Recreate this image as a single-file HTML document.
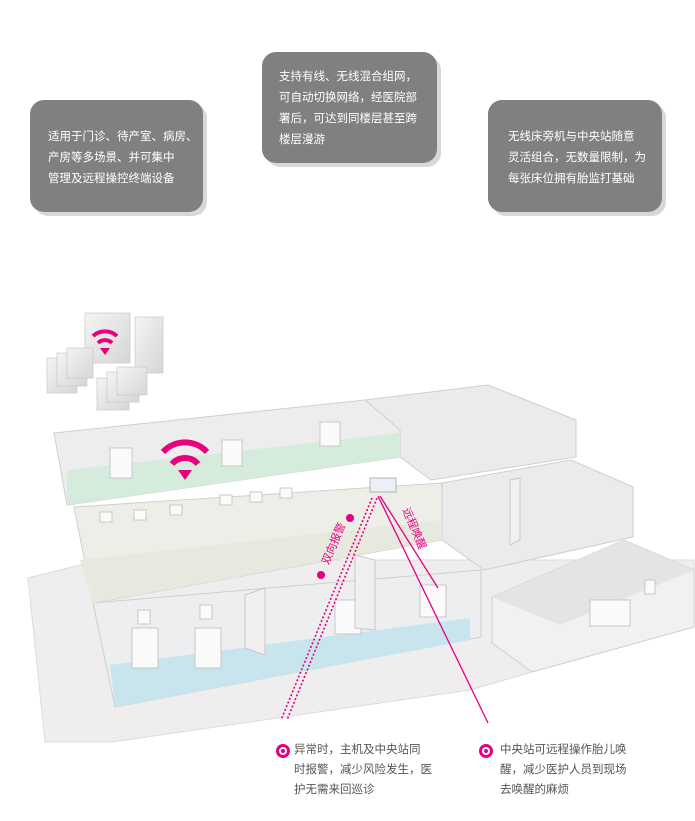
<!DOCTYPE html>
<html><head><meta charset="utf-8"><style>
body{margin:0;background:#fff;}
.wrap{position:relative;width:695px;height:821px;overflow:hidden;font-family:"Liberation Sans","Noto Sans CJK SC",sans-serif;}
.box{position:absolute;background:#808080;border-radius:14px;color:#fff;font-size:11.5px;line-height:21px;box-shadow:4px 4px 0 #d8d8d8;box-sizing:border-box;}
.lab{position:absolute;font-size:11.5px;line-height:20px;color:#555;}
.dot{position:absolute;width:8px;height:8px;border:3px solid #e4007f;border-radius:50%;background:#fff;}
.dot:after{content:"";position:absolute;left:2px;top:2px;width:4px;height:4px;border-radius:50%;background:#e4007f;}
</style></head><body><div class="wrap">
<div class="box" style="left:30px;top:100px;width:173px;height:112px;padding:27px 0 0 18px;">适用于门诊、待产室、病房、<br>产房等多场景、并可集中<br>管理及远程操控终端设备</div>
<div class="box" style="left:262px;top:52px;width:175px;height:111px;padding:15px 0 0 17px;">支持有线、无线混合组网，<br>可自动切换网络，经医院部<br>署后，可达到同楼层甚至跨<br>楼层漫游</div>
<div class="box" style="left:488px;top:100px;width:174px;height:112px;padding:27px 0 0 20px;">无线床旁机与中央站随意<br>灵活组合，无数量限制，为<br>每张床位拥有胎监打基础</div>

<svg width="695" height="821" style="position:absolute;left:0;top:0">
<defs><linearGradient id="g" x1="0" y1="0" x2="1" y2="1"><stop offset="0" stop-color="#f4f4f4"/><stop offset="1" stop-color="#d6d6d6"/></linearGradient></defs>
<!-- city -->
<g fill="url(#g)" stroke="#c8c8c8" stroke-width="0.7">
<rect x="85" y="313" width="45" height="50"/>
<rect x="135" y="317" width="28" height="56"/>
<rect x="47" y="358" width="30" height="35"/><rect x="57" y="353" width="30" height="33"/><rect x="67" y="348" width="26" height="30"/>
<rect x="97" y="378" width="32" height="32"/><rect x="107" y="372" width="32" height="30"/><rect x="117" y="367" width="30" height="28"/>
</g>
<!-- ground slab -->
<polygon points="28,578 100,560 694,560 694,627 532,672 470,690 112,742 45,742" fill="#efeded" stroke="#dcdcdc"/>
<!-- right ground block -->
<polygon points="492,597 624,540 694,570 694,627 532,672 492,643" fill="#f1f1f1" stroke="#d0d0d0"/>
<polygon points="492,597 624,540 694,570 560,625" fill="#e4e4e4"/>
<!-- ground floor block -->
<polygon points="93,603 481,570 481,637 115,707" fill="#eceef0" stroke="#cfcfcf"/>
<polygon points="110,665 470,618 470,640 115,707" fill="#c8e5ee"/>
<!-- middle right block -->
<polygon points="442,483 571,460 633,487 633,537 484,570 442,540" fill="#ebebeb" stroke="#cfcfcf"/>
<!-- middle floor -->
<polygon points="74,507 442,483 442,540 93,603" fill="#eeeee8" stroke="#cfcfcf"/>
<polygon points="80,560 442,520 442,540 93,603" fill="#e8e9de"/>
<!-- top right block -->
<polygon points="365,400 488,385 576,420 576,457 431,480 400,457" fill="#ebebeb" stroke="#cfcfcf"/>
<!-- top floor -->
<polygon points="54,433 365,400 400,430 400,457 67,505" fill="#ededed" stroke="#cfcfcf"/>
<polygon points="67,470 400,433 400,457 67,505" fill="#d5ecdc"/>
<!-- beds -->
<g fill="#fafafa" stroke="#bdbdbd" stroke-width="0.8">
<rect x="110" y="448" width="22" height="30"/><rect x="222" y="440" width="20" height="26"/><rect x="320" y="422" width="20" height="24"/>
<rect x="132" y="628" width="26" height="40"/><rect x="195" y="628" width="26" height="40"/><rect x="335" y="600" width="26" height="34"/><rect x="420" y="585" width="26" height="32"/><rect x="590" y="600" width="40" height="26"/>
<rect x="100" y="512" width="12" height="10"/><rect x="134" y="510" width="12" height="10"/><rect x="170" y="505" width="12" height="10"/><rect x="220" y="495" width="12" height="10"/><rect x="250" y="492" width="12" height="10"/><rect x="280" y="488" width="12" height="10"/>
<rect x="138" y="610" width="12" height="14"/><rect x="200" y="605" width="12" height="14"/><rect x="645" y="580" width="10" height="14"/>
</g>
<g fill="#f0f0f0" stroke="#c8c8c8"><polygon points="245,595 265,588 265,655 245,648"/><polygon points="355,555 375,560 375,630 355,628"/><polygon points="510,480 520,478 520,540 510,545"/></g>
<rect x="370" y="478" width="26" height="14" fill="#eaf0f5" stroke="#999" stroke-width="0.7"/>
<!-- wifi -->
<g fill="none" stroke="#e6007e" stroke-linecap="butt">
<path d="M163,452 A30,30 0 0 1 207,452" stroke-width="6"/>
<path d="M172,464 A17,17 0 0 1 198,464" stroke-width="6"/>
<path d="M93,336 A18,18 0 0 1 117,336" stroke-width="4"/>
<path d="M98,343 A10,10 0 0 1 112,343" stroke-width="4"/>
</g>
<polygon points="178,470 192,470 185,480" fill="#e6007e"/>
<polygon points="100,348 110,348 105,355" fill="#e6007e"/>
<!-- lines -->
<g stroke="#e4007f" stroke-width="1.6">
<line x1="372" y1="498" x2="281" y2="720" stroke-dasharray="2,2"/>
<line x1="377" y1="498" x2="287" y2="720" stroke-dasharray="2,2"/>
<line x1="378" y1="496" x2="488" y2="723" stroke-width="1.3"/>
<line x1="380" y1="496" x2="438" y2="588" stroke-width="1.3"/>
</g>
<circle cx="350" cy="518" r="4" fill="#e4007f"/><circle cx="321" cy="575" r="4" fill="#e4007f"/>
<text x="0" y="0" transform="translate(337,545) rotate(-67)" text-anchor="middle" font-size="11" fill="#e4007f" font-family="Liberation Sans, Noto Sans CJK SC, sans-serif">双向报警</text>
<text x="0" y="0" transform="translate(411,530) rotate(67)" text-anchor="middle" font-size="11" fill="#e4007f" font-family="Liberation Sans, Noto Sans CJK SC, sans-serif">远程唤醒</text>
</svg>

<div class="dot" style="left:276px;top:744px"></div>
<div class="lab" style="left:294px;top:740px">异常时，主机及中央站同<br>时报警，减少风险发生，医<br>护无需来回巡诊</div>
<div class="dot" style="left:479px;top:744px"></div>
<div class="lab" style="left:500px;top:740px">中央站可远程操作胎儿唤<br>醒，减少医护人员到现场<br>去唤醒的麻烦</div>
</div></body></html>
